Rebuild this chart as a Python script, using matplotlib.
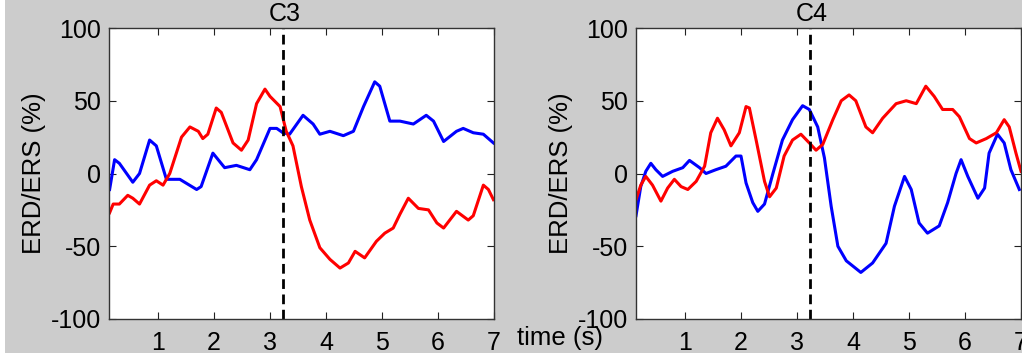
import matplotlib
matplotlib.use("Agg")
import matplotlib.pyplot as plt
from matplotlib.patches import Rectangle

# channel names and cue time (s)
channels = ["C3", "C4"]
cue_time = 3.23

# C3 - blue curve
c3_blue_t = [0.136, 0.225, 0.31, 0.55, 0.67, 0.85, 0.97, 1.15, 1.39, 1.69, 1.77, 1.98, 2.19, 2.4, 2.64,
             2.76, 3.0, 3.12, 3.23, 3.35, 3.59, 3.77, 3.89, 4.07, 4.31, 4.49, 4.67, 4.87, 4.96, 5.14,
             5.32, 5.56, 5.79, 5.92, 6.1, 6.33, 6.45, 6.63, 6.81, 6.99]
c3_blue_v = [-11, 9.5, 7, -6, 0, 23, 19, -4, -4, -11, -9, 14, 4, 5.6, 2.6,
             9.5, 31, 31, 28, 27, 40, 34, 27, 29, 26, 29, 46, 63, 60, 36,
             36, 34, 40, 36, 22, 29, 31, 28, 27, 21]

# C3 - red curve
c3_red_t = [0.136, 0.2, 0.31, 0.46, 0.55, 0.67, 0.85, 0.97, 1.09, 1.21, 1.42, 1.57, 1.72, 1.8, 1.89,
            2.04, 2.13, 2.34, 2.49, 2.61, 2.76, 2.91, 3.0, 3.18, 3.29, 3.41, 3.56, 3.71, 3.89, 4.07,
            4.25, 4.4, 4.52, 4.69, 4.9, 5.05, 5.2, 5.32, 5.47, 5.65, 5.83, 5.98, 6.1, 6.33, 6.54,
            6.63, 6.81, 6.9, 6.99]
c3_red_v = [-27, -21, -21, -15, -17, -21, -8, -5, -8, 0, 25, 32, 29, 24, 27,
            45, 42, 21, 16, 23, 48, 58, 53, 46, 29, 19, -9, -32, -51, -59,
            -65, -61.5, -53.5, -58, -46.6, -41, -37.5, -28, -17, -24, -25, -34, -37.5, -26, -32,
            -29, -8, -11, -18]

# C4 - blue curve
c4_blue_t = [0.125, 0.21, 0.3, 0.39, 0.48, 0.6, 0.78, 0.96, 1.08, 1.26, 1.375, 1.55, 1.73, 1.91, 2.0,
             2.09, 2.21, 2.3, 2.42, 2.57, 2.74, 2.92, 3.1, 3.22, 3.37, 3.49, 3.61, 3.73, 3.88, 4.14,
             4.35, 4.59, 4.74, 4.92, 5.04, 5.18, 5.33, 5.54, 5.69, 5.84, 5.93, 6.05, 6.23, 6.35, 6.43,
             6.58, 6.7, 6.82, 6.97]
c4_blue_v = [-29, -9, 1.5, 7, 2.6, -2, 1.5, 4, 9, 4, 0, 2.6, 5, 12, 12,
             -6.5, -20, -26, -21, 0, 23, 37, 46.6, 44, 32, 10.7, -22.5, -50, -60, -68,
             -61.5, -48, -22.5, -2, -11, -34, -41, -36, -20, 0, 9.5, -2, -17, -10, 14,
             27, 21, 2.6, -11]

# C4 - red curve
c4_red_t = [0.125, 0.21, 0.3, 0.42, 0.57, 0.69, 0.81, 0.93, 1.05, 1.2, 1.35, 1.46, 1.58, 1.7, 1.82,
            1.97, 2.09, 2.15, 2.27, 2.42, 2.51, 2.63, 2.77, 2.92, 3.07, 3.22, 3.34, 3.46, 3.64, 3.79,
            3.93, 4.05, 4.23, 4.35, 4.53, 4.77, 4.95, 5.13, 5.3, 5.45, 5.6, 5.78, 5.9, 6.08, 6.2,
            6.38, 6.56, 6.7, 6.79, 6.91, 7.0]
c4_red_v = [-18, -8, -2, -8, -19, -10, -4, -9, -11, -5.4, 5, 28, 38, 30, 19,
            28, 46, 45, 23, -5.4, -16, -10, 12, 23, 27, 21, 16, 20, 37, 50,
            54, 50, 32, 28, 38, 48, 50, 48, 60, 53, 44, 44, 39, 24, 21,
            24, 28, 37, 32, 14, 1.5]

x_ticks = [1, 2, 3, 4, 5, 6, 7]
y_ticks = [-100, -50, 0, 50, 100]

plt.rcParams['font.family'] = ['Liberation Sans', 'DejaVu Sans']
plt.rcParams['axes.unicode_minus'] = False   # plain hyphen like the original


def draw_panel(ax, name, blue_t, blue_v, red_t, red_v):
    ax.plot(blue_t, blue_v, color="#0000ff", lw=2.2, solid_joinstyle="round")
    ax.plot(red_t, red_v, color="#ff0000", lw=2.2, solid_joinstyle="round")
    ax.axvline(cue_time, color="black", lw=2.0, ls=(0, (3.5, 2.0)))
    ax.set_xlim(0.125, 7)
    ax.set_ylim(-100, 100)
    ax.set_xticks(x_ticks)
    ax.set_yticks(y_ticks)
    ax.tick_params(direction="in", length=5, width=0.8, top=True, right=True,
                   labelsize=18, colors="#222222", labelcolor="black")
    ax.tick_params(axis="x", pad=9)
    ax.tick_params(axis="y", pad=6)
    for s in ax.spines.values():
        s.set_linewidth(1.0)
        s.set_color("#333333")
    ax.set_ylabel("ERD/ERS (%)", fontsize=18.5, labelpad=3)
    ax.text(cue_time + 0.04, 101.5, name, ha="center", va="bottom", fontsize=18)


def main():
    fig = plt.figure(figsize=(10.22, 3.58), dpi=100)
    fig.patch.set_facecolor("white")
    fig.patches.append(Rectangle((5 / 1022, 5 / 358), 1, 1, transform=fig.transFigure,
                                 facecolor="#cccccc", edgecolor="none", zorder=-10))

    ax1 = fig.add_axes([109 / 1022, 39 / 358, 385 / 1022, 291 / 358])
    ax2 = fig.add_axes([636 / 1022, 39 / 358, 385 / 1022, 291 / 358])
    draw_panel(ax1, channels[0], c3_blue_t, c3_blue_v, c3_red_t, c3_red_v)
    draw_panel(ax2, channels[1], c4_blue_t, c4_blue_v, c4_red_t, c4_red_v)

    fig.text(517 / 1022, 1 - 345 / 358, "time (s)", fontsize=18.5, ha="left", va="baseline")

    fig.savefig("out.png", dpi=100)


if __name__ == "__main__":
    main()
